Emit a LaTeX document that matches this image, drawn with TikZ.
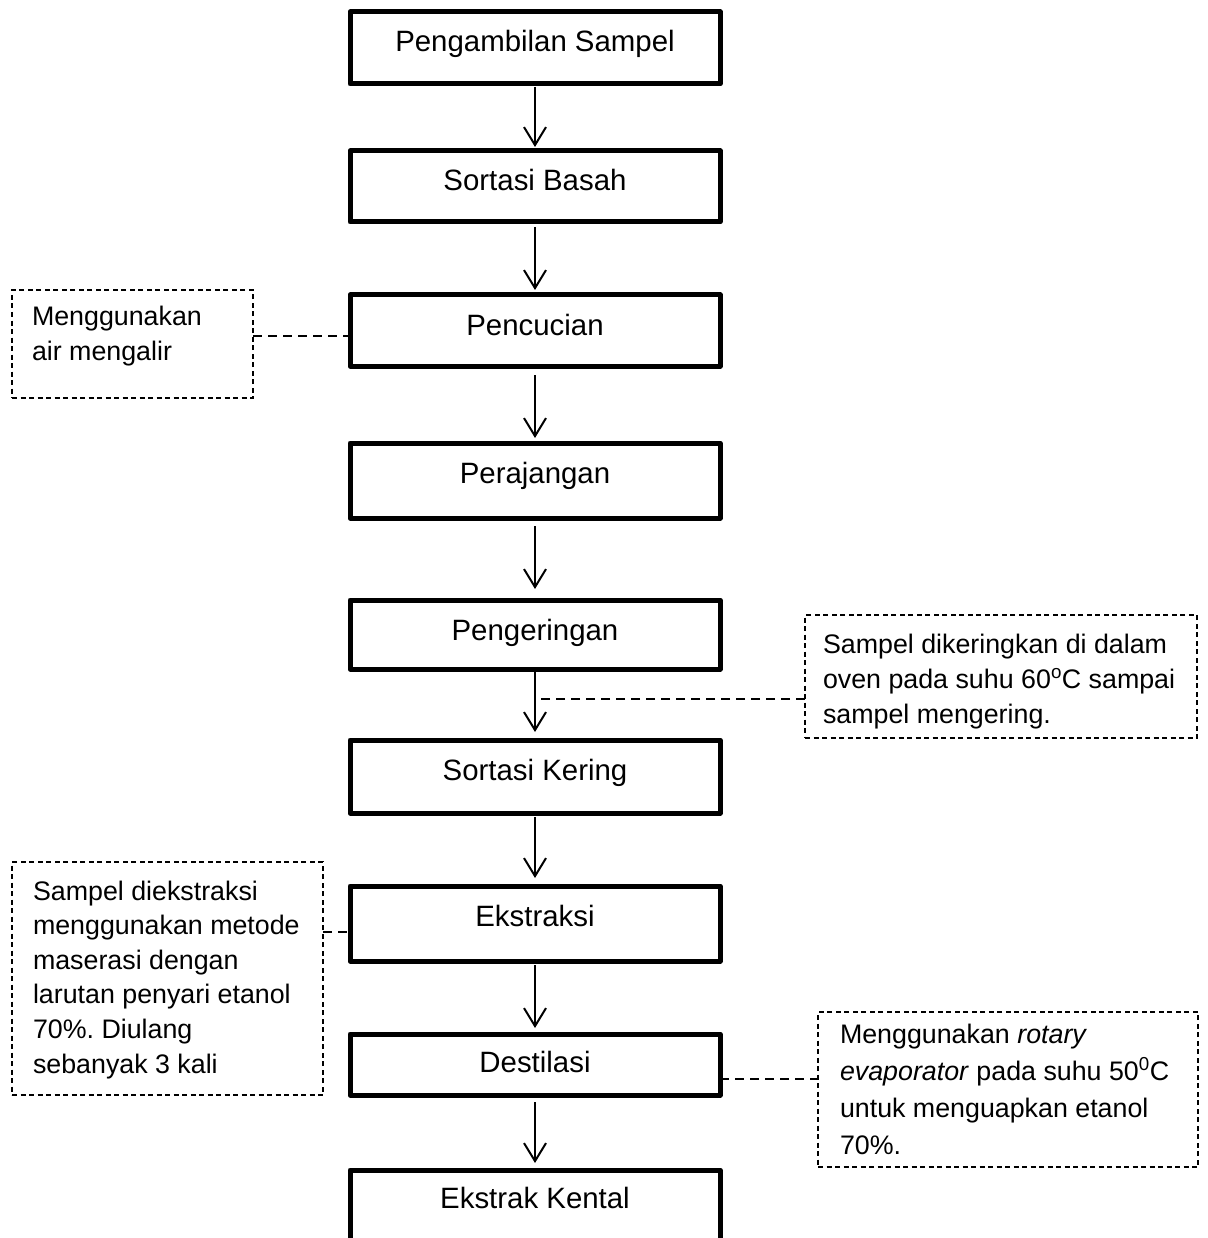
\documentclass[tikz,border=0pt]{standalone}
\usepackage{fontspec}
\setmainfont{Liberation Sans}
\usetikzlibrary{arrows.meta}
\frenchspacing
\begin{document}
\begin{tikzpicture}[x=1pt,y=-1pt,
  mainbox/.style={draw, line width=5pt, line join=round, minimum width=370pt, minimum height=0pt,
    inner xsep=0pt, inner ysep=0pt, outer sep=0pt, text height=40pt, anchor=base,
    font=\fontsize{29.4}{35}\selectfont},
  notebox/.style={draw, line width=1.3pt, dash pattern=on 5pt off 3.5pt, inner sep=0pt,
    outer sep=0pt, anchor=north west},
  notetext/.style={inner sep=0pt, outer sep=0pt, anchor=base west},
  flow/.style 2 args={line width=2pt, -{Straight Barb[length=18pt,width=22pt]},
    shorten <=#1, shorten >=#2},
  link/.style={line width=1.5pt, dash pattern=on 9pt off 6pt}
]
\useasboundingbox (0,0) rectangle (1207,1238);
\clip (0,0) rectangle (1207,1238);

% main boxes
\node[mainbox, text depth=32pt] (n1) at (535,52)   {Pengambilan Sampel};
\node[mainbox, text depth=31pt] (n2) at (535,191)  {Sortasi Basah};
\node[mainbox, text depth=31pt] (n3) at (535,335)  {Pencucian};
\node[mainbox, text depth=35pt] (n4) at (535,483)  {Perajangan};
\node[mainbox, text depth=29pt] (n5) at (535,640)  {Pengeringan};
\node[mainbox, text depth=33pt] (n6) at (535,780)  {Sortasi Kering};
\node[mainbox, text depth=35pt] (n7) at (535,926)  {Ekstraksi};
\node[mainbox, text height=38pt, text depth=23pt] (n8) at (535,1072) {Destilasi};
\node[mainbox, text height=38pt, text depth=100pt] (n9) at (535,1208) {Ekstrak Kental};

% arrows
\draw[flow={3pt}{4pt}]  (n1.south) -- (n2.north);
\draw[flow={5pt}{5pt}]  (n2.south) -- (n3.north);
\draw[flow={9pt}{5pt}]  (n3.south) -- (n4.north);
\draw[flow={8pt}{11pt}] (n4.south) -- (n5.north);
\draw[flow={3pt}{8pt}]  (n5.south) -- (n6.north);
\draw[flow={4pt}{8pt}]  (n6.south) -- (n7.north);
\draw[flow={4pt}{6pt}]  (n7.south) -- (n8.north);
\draw[flow={7pt}{7pt}]  (n8.south) -- (n9.north);

% note boxes
\node[notebox, minimum width=241pt, minimum height=108pt] (nA) at (12,290) {};
\node[notetext] (tA) at (32,325) {\fontsize{26.8}{35}\selectfont
  \parbox[t]{215pt}{Menggunakan\\air mengalir}};

\node[notebox, minimum width=392pt, minimum height=123pt] (nB) at (805,615) {};
\node[notetext] (tB) at (823,653) {\fontsize{26.8}{35}\selectfont
  \parbox[t]{370pt}{Sampel dikeringkan di dalam\\oven pada suhu 60\textsuperscript{o}C sampai\\sampel mengering.}};

\node[notebox, minimum width=311pt, minimum height=233pt] (nC) at (12,862) {};
\node[notetext] (tC) at (33,900) {\fontsize{26.8}{34.6}\selectfont
  \parbox[t]{288pt}{Sampel diekstraksi\\menggunakan metode\\maserasi dengan\\larutan penyari etanol\\70\%. Diulang\\sebanyak 3 kali}};

\node[notebox, minimum width=380pt, minimum height=155pt] (nD) at (818,1012) {};
\node[notetext] (tD) at (840,1043) {\fontsize{26.8}{37}\selectfont
  \parbox[t]{355pt}{Menggunakan \textit{rotary}\\\textit{evaporator} pada suhu 50\textsuperscript{0}C\\untuk menguapkan etanol\\70\%.}};

% dashed connectors
\coordinate (cA) at (0,336);
\coordinate (cB) at (537,699);
\coordinate (cC) at (0,932);
\coordinate (cD) at (0,1079);
\draw[link] (nA.east |- cA) -- (n3.west |- cA);
\draw[link] (nB.west |- cB) -- (cB);
\draw[link] (nC.east |- cC) -- (n7.west |- cC);
\draw[link] (n8.east |- cD) -- (nD.west |- cD);
\end{tikzpicture}
\end{document}
